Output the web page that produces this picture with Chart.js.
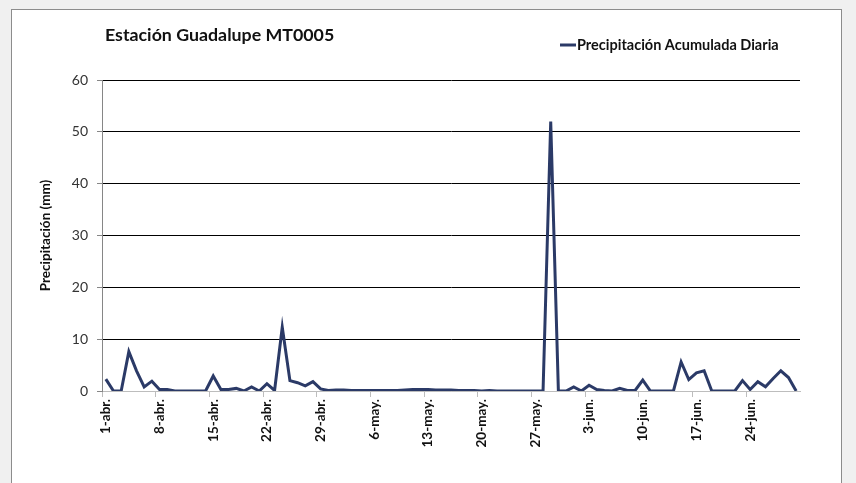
<!DOCTYPE html>
<html>
<head>
<meta charset="utf-8">
<script src="https://cdn.jsdelivr.net/npm/chart.js@4"></script>
<style>
  html, body { margin: 0; padding: 0; background: #f0f0f0; width: 856px; height: 483px; overflow: hidden; }
  #frame { position: absolute; left: 11px; top: 9px; width: 829px; height: 500px; background: #fff; border: 1px solid #8c8c8c; }
  #wrap { position: absolute; left: 0; top: 0; width: 856px; height: 483px; }
</style>
</head>
<body>
<div id="frame"></div>
<div id="wrap"><canvas id="c" width="856" height="483"></canvas></div>
<script>
// Data
const titleText = 'Estación Guadalupe MT0005';
const seriesName = 'Precipitación Acumulada Diaria';
const yAxisTitle = 'Precipitación (mm)';
const months = [ { name: 'abr.', days: 30 }, { name: 'may.', days: 31 }, { name: 'jun.', days: 30 } ];
const yTicks = [0, 10, 20, 30, 40, 50, 60];
const precip = [
  2.3, 0, 0, 7.6, 3.9, 0.8, 1.9, 0.3, 0.3, 0,
  0, 0, 0, 0, 2.9, 0.3, 0.3, 0.5, 0, 0.8,
  0, 1.4, 0.1, 12.3, 2.0, 1.6, 1.0, 1.8, 0.4, 0.1,
  0.2, 0.2, 0.1, 0.1, 0.1, 0.1, 0.1, 0.1, 0.1, 0.2,
  0.3, 0.3, 0.3, 0.2, 0.2, 0.2, 0.1, 0.1, 0.1, 0,
  0.1, 0, 0, 0, 0, 0, 0, 0, 52, 0,
  0, 0.8, 0, 1.1, 0.3, 0.1, 0, 0.5, 0.1, 0.1,
  2.1, 0, 0, 0, 0, 5.6, 2.2, 3.5, 3.9, 0,
  0, 0, 0, 2.0, 0.3, 1.8, 0.8, 2.4, 3.9, 2.6,
  0
];
const labelEvery = 7;

const categories = [];
months.forEach(m => { for (let d = 1; d <= m.days; d++) categories.push(d + '-' + m.name); });

const FONT = 'Lato, "Open Sans", sans-serif';
const axisGray = '#868686';
const lineColor = '#2b3a67';

const decor = {
  id: 'decor',
  afterDraw(chart) {
    const ctx = chart.ctx;
    ctx.save();
    ctx.fillStyle = '#111';
    ctx.textBaseline = 'middle';
    ctx.textAlign = 'left';
    ctx.font = 'bold 17.8px ' + FONT;
    ctx.fillText(titleText, 105, 35);
    // legend
    ctx.strokeStyle = lineColor;
    ctx.lineWidth = 3;
    ctx.beginPath();
    ctx.moveTo(560, 45);
    ctx.lineTo(576, 45);
    ctx.stroke();
    ctx.font = 'bold 14.5px ' + FONT;
    ctx.fillText(seriesName, 577, 45);
    ctx.restore();
  }
};

new Chart(document.getElementById('c'), {
  type: 'line',
  data: {
    labels: categories,
    datasets: [{
      label: seriesName,
      data: precip,
      borderColor: lineColor,
      backgroundColor: lineColor,
      borderWidth: 3,
      pointRadius: 0,
      tension: 0,
      fill: false
    }]
  },
  options: {
    responsive: false,
    animation: false,
    devicePixelRatio: 1,
    layout: { padding: { left: 0, right: 56, top: 80, bottom: 0 } },
    plugins: { legend: { display: false }, title: { display: false }, tooltip: { enabled: false } },
    scales: {
      x: {
        type: 'category',
        offset: true,
        afterFit(scale) { scale.height = 92; },
        grid: {
          offset: true,
          drawOnChartArea: false,
          tickLength: 6,
          color: c => (c.index % labelEvery === 0 || c.index >= categories.length) ? '#bdbdbd' : 'rgba(0,0,0,0)'
        },
        border: { color: '#bdbdbd', width: 1 },
        ticks: {
          autoSkip: false,
          maxRotation: 90,
          minRotation: 90,
          padding: 2,
          color: '#111',
          font: { family: FONT, size: 13.5, weight: 'bold' },
          callback(v, i) { return i % labelEvery === 0 ? categories[i] : ''; }
        }
      },
      y: {
        min: 0,
        max: 60,
        afterFit(scale) { scale.width = 102; },
        afterBuildTicks(scale) { scale.ticks = yTicks.map(v => ({ value: v })); },
        grid: {
          color: c => c.tick && c.tick.value === 0 ? '#bdbdbd' : '#000',
          tickColor: axisGray,
          tickLength: 5,
          lineWidth: 1
        },
        border: { color: axisGray, width: 1 },
        ticks: {
          padding: 9,
          color: '#333',
          font: { family: FONT, size: 14 }
        },
        title: {
          display: true,
          text: yAxisTitle,
          color: '#111',
          font: { family: FONT, size: 13.5, weight: 'bold' },
          padding: { top: 38, bottom: 0 }
        }
      }
    }
  },
  plugins: [decor]
});
</script>
</body>
</html>
